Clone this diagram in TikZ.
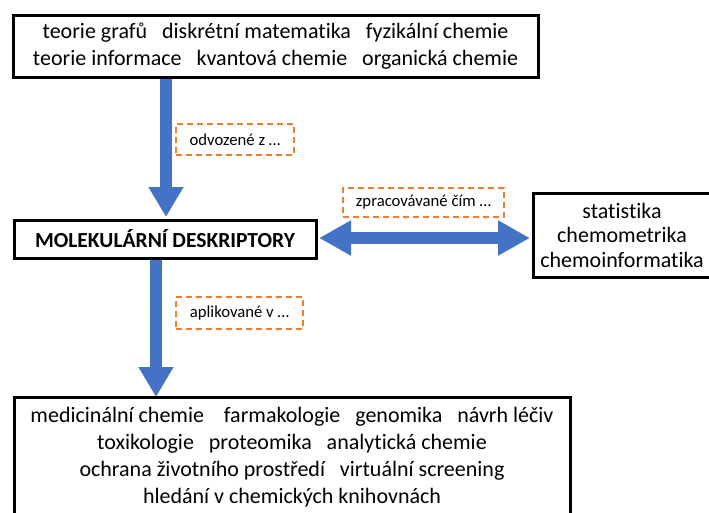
\documentclass[tikz,border=0pt]{standalone}
\usepackage{fontspec}
\setmainfont{Carlito}[Ligatures=NoCommon]
\usetikzlibrary{arrows.meta}

\definecolor{sipka}{HTML}{4472C4}
\definecolor{oranz}{HTML}{ED7D31}

\begin{document}
\begin{tikzpicture}[
  x=1pt, y=1pt,
  box/.style={rectangle, draw, line width=3pt, align=center, inner sep=0pt,
    font=\fontsize{22}{26.5}\selectfont},
  note/.style={rectangle, draw=oranz, line width=2pt, dash pattern=on 6pt off 4pt,
    inner sep=0pt, font=\fontsize{16.7}{18}\selectfont},
  flow/.style={sipka, line width=12pt, -{Triangle[length=30pt, width=33pt]}},
  flowboth/.style={sipka, line width=12pt, {Triangle[length=32pt, width=33pt]}-{Triangle[length=32pt, width=33pt]}}
]
\clip (0,0) rectangle (709,-512);

% Uzly
\node[box, minimum width=525, minimum height=62] (zdroje) at (275.5,-46)
  {teorie grafů~~~diskrétní matematika~~~fyzikální chemie\\
   teorie informace~~~kvantová chemie~~~organická chemie};
\node[box, minimum width=302, minimum height=38, font=\fontsize{21.5}{24}\selectfont\bfseries] (deskriptory) at (165,-239)
  {MOLEKULÁRNÍ DESKRIPTORY};
\node[box, minimum width=178, minimum height=84, font=\fontsize{22}{24.5}\selectfont] (metody) at (622,-235)
  {statistika\\ chemometrika\\ chemoinformatika};
\node[box, minimum width=556, minimum height=121, font=\fontsize{22}{27}\selectfont] (aplikace) at (292,-457.5)
  {medicinální chemie~~~~farmakologie~~~genomika~~~návrh léčiv\\
   toxikologie~~~proteomika~~~analytická chemie\\
   ochrana životního prostředí~~~virtuální screening\\
   hledání v chemických knihovnách};

% Popisky
\node[note, minimum width=118, minimum height=31] (odvozene) at (235,-139.5) {odvozené z \dots};
\node[note, minimum width=161, minimum height=29] (zpracovavane) at (423.5,-202.5) {zpracovávané čím \dots};
\node[note, minimum width=127, minimum height=32] (aplikovane) at (239.5,-313) {aplikované v \dots};

% Šipky
\coordinate (horni) at ([xshift=1pt]deskriptory.north);
\coordinate (dolni) at ([xshift=-9pt]deskriptory.south);
\draw[flow] (horni |- zdroje.south) -- ([yshift=1.5pt]horni);
\draw[flow] (dolni) -- ([yshift=-1.5pt]dolni |- aplikace.north);
\draw[flowboth] ([xshift=1.5pt,yshift=1pt]deskriptory.east) -- ([xshift=-1.5pt,yshift=1pt]deskriptory.east -| metody.west);

\end{tikzpicture}
\end{document}
